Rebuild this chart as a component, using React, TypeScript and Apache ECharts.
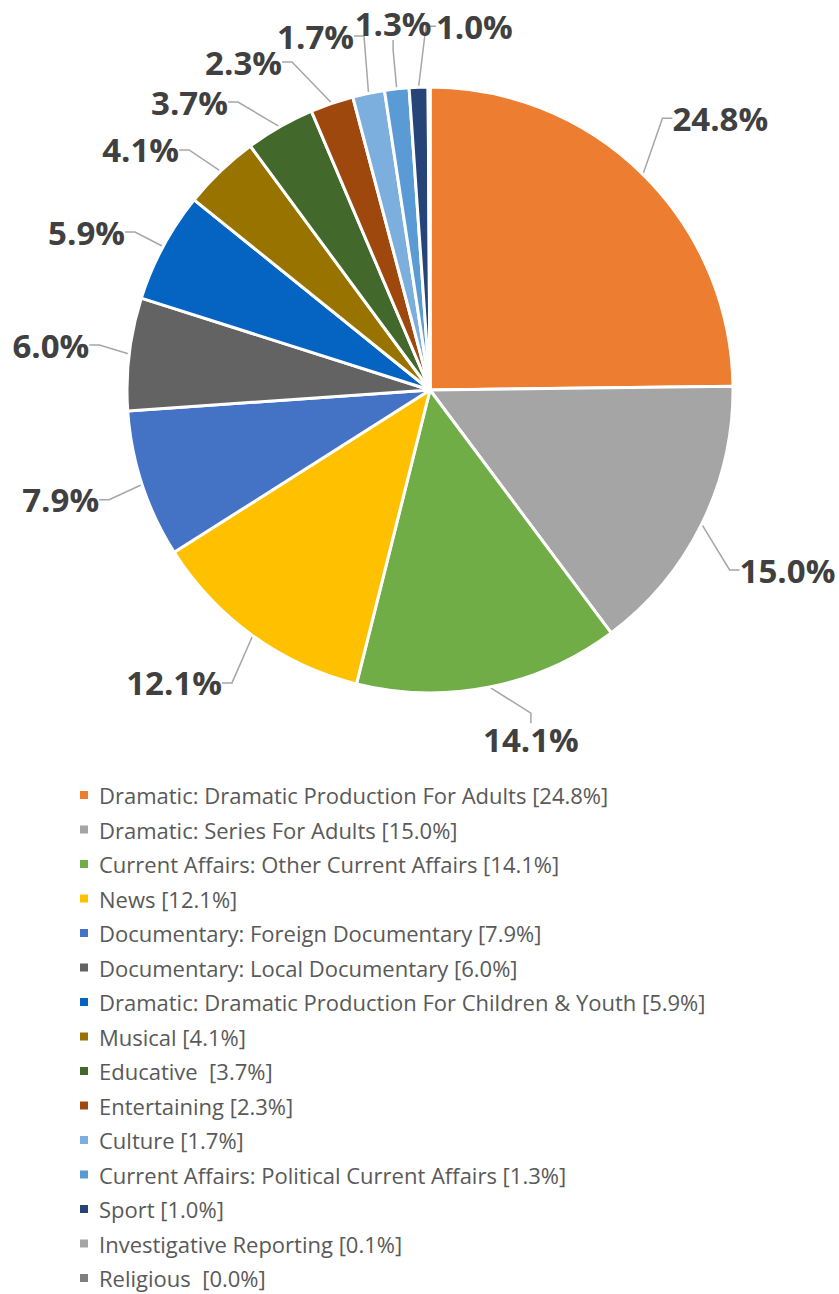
import React, { useEffect, useRef } from "react";
import * as echarts from "echarts";

const categories = [
  "Dramatic: Dramatic Production For Adults",
  "Dramatic: Series For Adults",
  "Current Affairs: Other Current Affairs",
  "News",
  "Documentary: Foreign Documentary",
  "Documentary: Local Documentary",
  "Dramatic: Dramatic Production For Children & Youth",
  "Musical",
  "Educative ",
  "Entertaining",
  "Culture",
  "Current Affairs: Political Current Affairs",
  "Sport",
  "Investigative Reporting",
  "Religious ",
];
const values = [24.8, 15.0, 14.1, 12.1, 7.9, 6.0, 5.9, 4.1, 3.7, 2.3, 1.7, 1.3, 1.0, 0.1, 0.0];
const colors = [
  "#ED7D31", "#A5A5A5", "#70AD47", "#FFC000", "#4472C4", "#636363", "#0563C1",
  "#997300", "#43682B", "#9E480E", "#7CAFDD", "#5B9BD5", "#264478", "#A5A5A5", "#7F7F7F",
];
// label nudges (label-centre offset from ECharts' default outside position)
const labelDx = [5.5, 10, -20.5, -9, -14, -10, -10.5, -17.6, -32, -33.4, -0.5, 47, 105];
const labelDy = [-42, 37, 33, 31, 9, -6.5, -5, -6.7, -7.4, -22.4, -37.7, -45.5, -41];

export default function App() {
  const ref = useRef<HTMLDivElement>(null);
  useEffect(() => {
    document.body.style.margin = "0";
    const chart = echarts.init(ref.current!, null, { renderer: "svg" });
    const data = categories.map((name, i) => ({
      name,
      value: values[i],
      itemStyle: { color: colors[i] },
      label: { show: values[i] >= 0.5 },
      labelLine: { show: values[i] >= 0.5 },
    }));
    chart.setOption({
      animation: false,
      backgroundColor: "#ffffff",
      legend: {
        orient: "vertical",
        left: 78,
        top: 784,
        padding: 0,
        itemWidth: 10,
        itemHeight: 10,
        itemGap: 12.5,
        icon: "rect",
        textStyle: {
          fontFamily: "'Open Sans', sans-serif",
          fontSize: 22,
          color: "#595959",
          padding: [0, 0, 0, 5],
        },
        formatter: (name: string) => {
          const i = categories.indexOf(name);
          return `${name} [${values[i].toFixed(1)}%]`;
        },
        data: categories,
      },
      series: [
        {
          type: "pie",
          center: [430, 390],
          radius: [0, 303],
          startAngle: 90,
          clockwise: true,
          avoidLabelOverlap: false,
          itemStyle: { borderColor: "#ffffff", borderWidth: 3 },
          label: {
            position: "outside",
            formatter: (p: any) => `${p.value.toFixed(1)}%`,
            fontFamily: "'Open Sans', sans-serif",
            fontWeight: "bold",
            fontSize: 33,
            color: "#404040",
            distanceToLabelLine: 0,
          },
          labelLine: {
            length: 20,
            length2: 10,
            lineStyle: { color: "#A6A6A6", width: 1.5 },
          },
          labelLayout: (p: any) => {
            const i = p.dataIndex;
            if (i >= labelDx.length) return {};
            const r = p.labelRect;
            return {
              x: r.x + r.width / 2 + labelDx[i],
              y: r.y + r.height / 2 + labelDy[i],
              align: "center",
              verticalAlign: "middle",
            };
          },
          data,
        },
      ],
    });
    return () => chart.dispose();
  }, []);
  return <div ref={ref} style={{ width: 839, height: 1294 }} />;
}
